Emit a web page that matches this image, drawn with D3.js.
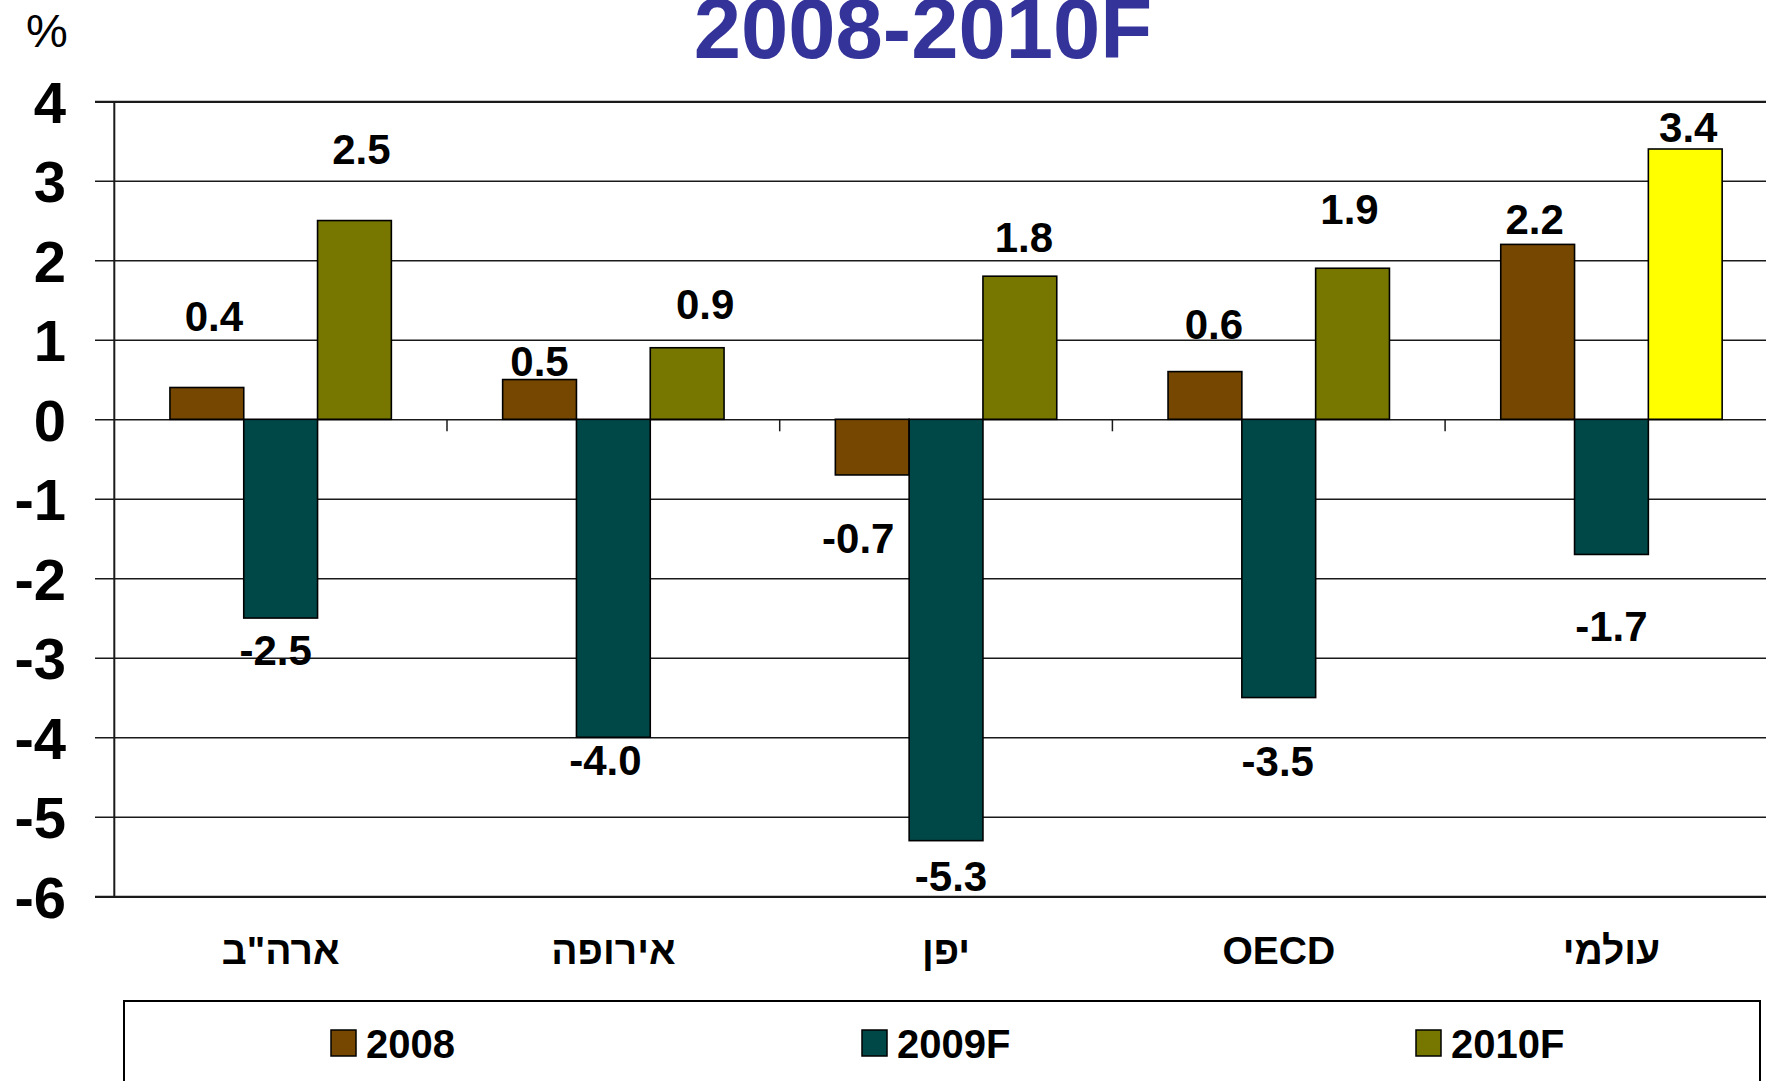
<!DOCTYPE html>
<html>
<head>
<meta charset="utf-8">
<script src="https://cdnjs.cloudflare.com/ajax/libs/d3/7.8.5/d3.min.js"></script>
<style>
  html, body { margin: 0; padding: 0; background: #fff; overflow: hidden; }
  svg text { font-family: "Liberation Sans", Arial, sans-serif; }
</style>
</head>
<body>
<svg width="1766" height="1081"></svg>
<script>
const categories = ['ארה"ב', "אירופה", "יפן", "OECD", "עולמי"];
const seriesNames = ["2008", "2009F", "2010F"];
const values2008 = [0.4, 0.5, -0.7, 0.6, 2.2];
const values2009 = [-2.5, -4.0, -5.3, -3.5, -1.7];
const values2010 = [2.5, 0.9, 1.8, 1.9, 3.4];
const yTicks = [4, 3, 2, 1, 0, -1, -2, -3, -4, -5, -6];

// styling / manual label nudges (kept apart from the data)
const colors = ["#754700", "#004848", "#777700"];
const highlight = { series: 2, category: 4, color: "#ffff00" };
const labelGap = [[57, 4, 78, 33, 10], [47, 38, 50, 78, 87], [57, 29, 24, 44, 7]];
const labelDx = [[7, 0, -14, 9, -3], [-5, -8, 5, -1, 0], [7, 18, 4, -3, 3]];
const legendX = [331, 862, 1416];

const svg = d3.select("svg");
const left = 114.3, right = 1777.8;

const x0 = d3.scaleBand().domain(categories).range([left, right]).padding(0);
const x1 = d3.scaleBand().domain(seriesNames).range([0, x0.bandwidth()])
  .paddingInner(0).paddingOuter(0.754);
const y = d3.scaleLinear().domain([-6, 4]).range([896.3, 101.3]);

const table = seriesNames.map((s, i) => ({
  name: s,
  idx: i,
  values: [values2008, values2009, values2010][i]
}));

// gridlines + y tick labels
const yAxis = svg.append("g")
  .attr("transform", "translate(95,0)")
  .call(d3.axisLeft(y).tickValues(yTicks).tickFormat(d => String(d))
    .tickSize(-(right - 95)).tickPadding(29));
yAxis.select(".domain").remove();
yAxis.selectAll(".tick line")
  .attr("stroke", "#1a1a1a")
  .attr("stroke-width", d => (d === 4 || d === -6) ? 2.2 : 1.5);
yAxis.selectAll(".tick text")
  .attr("fill", "#000")
  .style("font-size", "58px")
  .style("font-weight", "bold")
  .attr("dy", "0.36em");

// y axis line
svg.append("line")
  .attr("x1", left).attr("x2", left)
  .attr("y1", y(4)).attr("y2", y(-6))
  .attr("stroke", "#1a1a1a").attr("stroke-width", 2);

// category boundary ticks on the zero line
svg.append("g").selectAll("line")
  .data(categories.slice(1))
  .join("line")
  .attr("x1", d => x0(d)).attr("x2", d => x0(d))
  .attr("y1", y(0)).attr("y2", y(0) + 12)
  .attr("stroke", "#1a1a1a").attr("stroke-width", 1.5);

// bars
const groups = svg.append("g").selectAll("g")
  .data(table)
  .join("g");

groups.selectAll("rect")
  .data(s => s.values.map((v, c) => ({ v, c, s })))
  .join("rect")
  .attr("x", d => x0(categories[d.c]) + x1(d.s.name))
  .attr("width", x1.bandwidth())
  .attr("y", d => y(Math.max(0, d.v)))
  .attr("height", d => Math.abs(y(d.v) - y(0)))
  .attr("fill", d => (d.s.idx === highlight.series && d.c === highlight.category) ? highlight.color : colors[d.s.idx])
  .attr("stroke", "#000")
  .attr("stroke-width", 1.6);

// value labels
groups.selectAll("text")
  .data(s => s.values.map((v, c) => ({ v, c, s })))
  .join("text")
  .attr("x", d => x0(categories[d.c]) + x1(d.s.name) + x1.bandwidth() / 2 + labelDx[d.s.idx][d.c])
  .attr("y", d => d.v >= 0 ? y(d.v) - labelGap[d.s.idx][d.c] : y(d.v) + labelGap[d.s.idx][d.c])
  .attr("text-anchor", "middle")
  .style("font-size", "42px")
  .style("font-weight", "bold")
  .attr("fill", "#000")
  .text(d => d.v.toFixed(1));

// category labels
const xAxis = svg.append("g")
  .attr("transform", `translate(0,${y(-6)})`)
  .call(d3.axisBottom(x0).tickSize(0).tickPadding(40));
xAxis.select(".domain").remove();
xAxis.selectAll(".tick text")
  .attr("fill", "#000")
  .style("font-size", "39px")
  .style("font-weight", "bold");

// title and unit
svg.append("text")
  .attr("x", 923).attr("y", 58)
  .attr("text-anchor", "middle")
  .attr("fill", "#333399")
  .style("font-size", "85px")
  .style("font-weight", "bold")
  .text("2008-2010F");

svg.append("text")
  .attr("x", 26).attr("y", 47)
  .attr("fill", "#000")
  .style("font-size", "47px")
  .text("%");

// legend
svg.append("rect")
  .attr("x", 124).attr("y", 1001)
  .attr("width", 1636).attr("height", 120)
  .attr("fill", "#fff")
  .attr("stroke", "#000").attr("stroke-width", 2);

const legend = svg.append("g").selectAll("g")
  .data(table)
  .join("g")
  .attr("transform", d => `translate(${legendX[d.idx]},1030)`);

legend.append("rect")
  .attr("width", 25).attr("height", 26)
  .attr("fill", d => colors[d.idx])
  .attr("stroke", "#000").attr("stroke-width", 1.5);

legend.append("text")
  .attr("x", 35).attr("y", 28)
  .style("font-size", "40px")
  .style("font-weight", "bold")
  .attr("fill", "#000")
  .text(d => d.name);
</script>
</body>
</html>
